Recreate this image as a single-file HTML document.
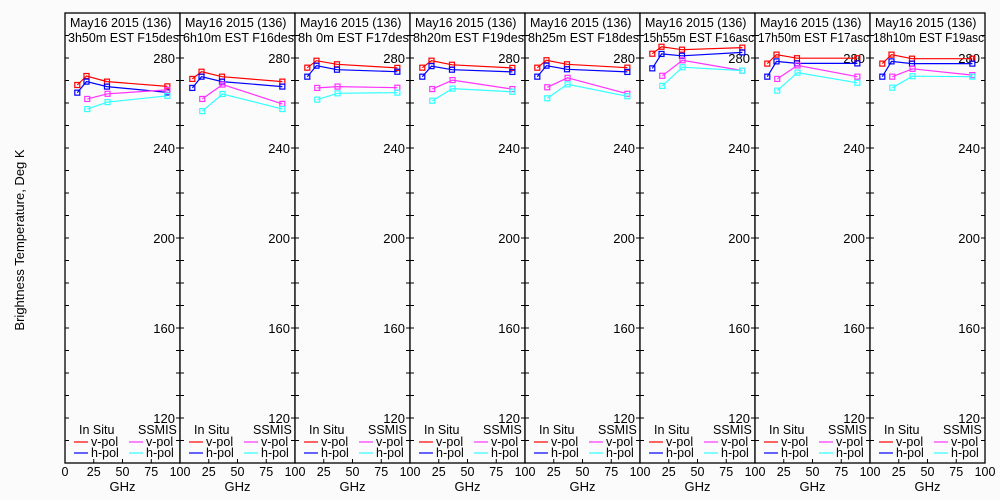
<!DOCTYPE html>
<html><head><meta charset="utf-8"><style>
body{margin:0;background:#fbfbfb;}
svg{display:block;font-family:"Liberation Sans",sans-serif;}
</style></head><body>
<svg id="chart" width="1000" height="500" viewBox="0 0 1000 500">
<rect x="0" y="0" width="1000" height="500" fill="#fbfbfb"/>
<text transform="translate(24,240) rotate(-90)" text-anchor="middle" font-size="13" fill="#000">Brightness Temperature, Deg K</text>
</svg>
<script>
const titles1=["May16 2015 (136)","May16 2015 (136)","May16 2015 (136)","May16 2015 (136)","May16 2015 (136)","May16 2015 (136)","May16 2015 (136)","May16 2015 (136)"];
const titles2=["3h50m EST F15des","6h10m EST F16des","8h 0m EST F17des","8h20m EST F19des","8h25m EST F18des","15h55m EST F16asc","17h50m EST F17asc","18h10m EST F19asc"];
const insituFreq=[10.7,18.7,36.5,89];
const ssmisFreq=[19.35,37,89];
const inVpol=[[268,272,269.5,267.4],[270.7,273.9,271.7,269.5],[275.7,278.8,277.2,275.6],[275.7,278.8,277,275.6],[275.7,279,277.2,275.7],[281.9,285,283.7,284.6],[277.5,281.5,279.9,279.9],[277.5,281.5,279.7,279.7]];
const inHpol=[[264.6,269.5,267.3,264.7],[266.7,271.7,269.5,267.3],[271.7,276.6,274.8,273.9],[271.7,276.4,274.8,273.8],[271.7,276.6,275,273.8],[275.4,281.8,281,282.5],[271.7,278.5,277.6,277.6],[271.7,278.5,277.5,277.5]];
const ssVpol=[[261.8,264.1,265.8],[261.8,268.2,259.6],[266.7,267.3,266.8],[266.2,270.2,266.2],[267,271.2,264.1],[272.1,279,274.4],[270.7,276.7,271.7],[271.7,275.2,272.4]];
const ssHpol=[[257.3,260.4,263.2],[256.4,264,257.3],[261.5,264.3,264.6],[261,266.4,265],[262.1,268.3,263],[267.6,275.9,274.4],[265.5,273.5,269],[266.8,271.9,271.7]];
const yLabels=[120,160,200,240,280];
const xLabels=[0,25,50,75,100];
const NS="http://www.w3.org/2000/svg";
const svg=document.getElementById('chart');
const X0=65,PW=115,YT=13,YB=463,KMIN=100,KMAX=300;
function yS(k){return YB-(k-KMIN)/(KMAX-KMIN)*(YB-YT);}
function xS(p,f){return X0+p*PW+f/100*PW;}
function mk(tag,attrs,parent){const e=document.createElementNS(NS,tag);for(const a in attrs)e.setAttribute(a,attrs[a]);(parent||svg).appendChild(e);return e;}
function series(g,p,fr,vals,col,name){
  const pts=vals.map((v,i)=>xS(p,fr[i]).toFixed(1)+","+yS(v).toFixed(1)).join(" ");
  const pl=mk('polyline',{points:pts,fill:'none',stroke:col,'stroke-width':1.2},g);
  
  
  vals.forEach((v,i)=>{
    const r=mk('rect',{x:xS(p,fr[i])-2.5,y:yS(v)-2.5,width:5,height:5,fill:'none',stroke:col,'stroke-width':1.2},g);
    
    
  });
}
for(let p=0;p<8;p++){
  const g=mk('g',{});
  
  
  const L=X0+p*PW,R=L+PW;
  const fr=mk('rect',{x:L,y:YT,width:PW,height:YB-YT,fill:'#fbfbfb',stroke:'#000','stroke-width':1.3},g);
  
  
  const t1=mk('text',{x:L+5,y:27,'font-size':12.5,fill:'#000'},g);t1.textContent=titles1[p];
  
  
  const t2=mk('text',{x:L+3,y:42,'font-size':12.5,fill:'#000',textLength:PW-4,lengthAdjust:'spacingAndGlyphs'},g);t2.textContent=titles2[p];
  
  
  for(let k=110;k<=300;k+=10){
    const y=yS(k);
    mk('line',{x1:L,x2:L+4,y1:y,y2:y,stroke:'#000'},g);
    mk('line',{x1:R-4,x2:R,y1:y,y2:y,stroke:'#000'},g);
  }
  yLabels.forEach(k=>{
    const t=mk('text',{x:R-5,y:yS(k)+5,'font-size':13,'text-anchor':'end',fill:'#000'},g);t.textContent=k;
    
    
  });
  xLabels.forEach(f=>{
    const x=xS(p,f);
    mk('line',{x1:x,x2:x,y1:YB-4,y2:YB,stroke:'#000'},g);
    if(p>0&&f===0)return;
    const t=mk('text',{x:x,y:476,'font-size':12.5,'text-anchor':'middle',fill:'#000'},g);t.textContent=f;
    
    
  });
  const gx=mk('text',{x:L+PW/2,y:491,'font-size':13,'text-anchor':'middle',fill:'#000'},g);gx.textContent='GHz';
  
  
  series(g,p,insituFreq,inVpol[p],'#ff0000','insitu-vpol');
  series(g,p,insituFreq,inHpol[p],'#0000ff','insitu-hpol');
  series(g,p,ssmisFreq,ssVpol[p],'#ff33ff','ssmis-vpol');
  series(g,p,ssmisFreq,ssHpol[p],'#33ffff','ssmis-hpol');
  const lg=mk('g',{},g);
  
  
  const a=mk('text',{x:L+14,y:434,'font-size':12.5,fill:'#000'},lg);a.textContent='In Situ';
  const b=mk('text',{x:L+73,y:434,'font-size':12.5,fill:'#000'},lg);b.textContent='SSMIS';
  [['#ff0000','v-pol',0,442],['#0000ff','h-pol',0,453],['#ff33ff','v-pol',55,442],['#33ffff','h-pol',55,453]].forEach(e=>{
    mk('line',{x1:L+9+e[2],x2:L+23+e[2],y1:e[3],y2:e[3],stroke:e[0],'stroke-width':1.2},lg);
    const t=mk('text',{x:L+26+e[2],y:e[3]+4,'font-size':12.5,fill:'#000'},lg);t.textContent=e[1];
    
    
  });
}
</script>
</body></html>
